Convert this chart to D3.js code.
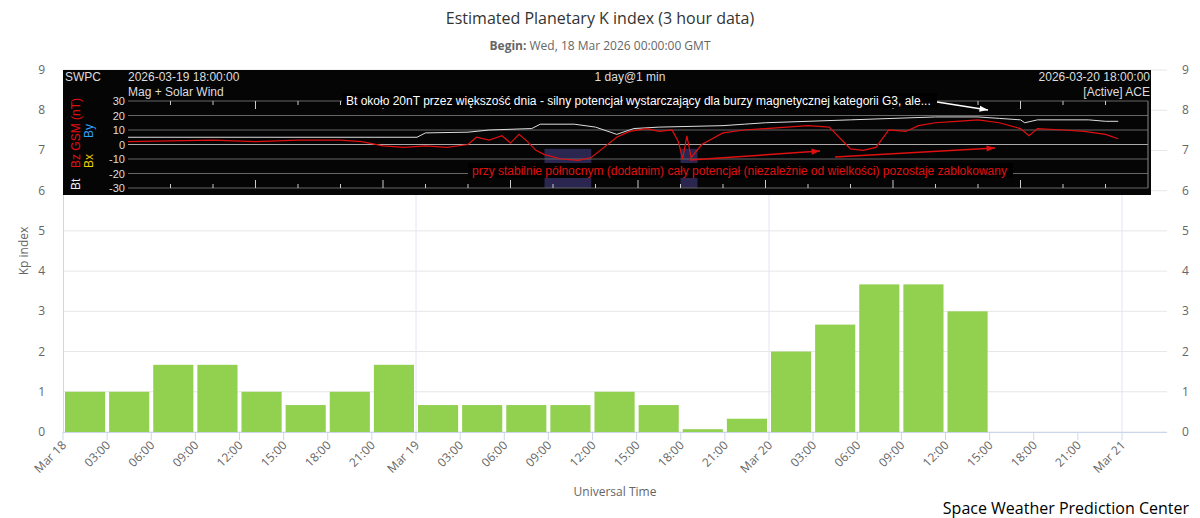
<!DOCTYPE html>
<html><head><meta charset="utf-8">
<script src="https://cdn.jsdelivr.net/npm/d3@7"></script>
<style>body{margin:0;background:#fff;font-family:"Open Sans","DejaVu Sans",sans-serif}</style>
</head><body><svg id="c" width="1200" height="518"></svg>
<script>
// Kp bars (3-hour), starting Mar 18 00:00 UTC
const kpValues = [1, 1, 1.67, 1.67, 1, 0.67, 1, 1.67,
                  0.67, 0.67, 0.67, 0.67, 1, 0.67, 0.07, 0.33,
                  2, 2.67, 3.67, 3.67, 3];
const yTicks = [0,1,2,3,4,5,6,7,8,9];
const xTickLabels = ["Mar 18","03:00","06:00","09:00","12:00","15:00","18:00","21:00",
                     "Mar 19","03:00","06:00","09:00","12:00","15:00","18:00","21:00",
                     "Mar 20","03:00","06:00","09:00","12:00","15:00","18:00","21:00","Mar 21"];
// inset: hours since 2026-03-19 18:00
const btHours = [0,6.8,7,8,8.5,9.5,9.7,10.5,11,11.5,11.9,12.5,14,14.5,15,16,17,18,19,20,20.5,21,21.1,21.4,22,22.6,23,23.3];
const btValues = [5,5,8,8.5,10,11,14,14,12,7,11,12,13,14,15,16,17,18,19,19,18,17,15,17,17,17,16,16];
const bzHours = [0,1,2,3,4,5,5.5,6,6.5,7,7.5,8,8.2,8.5,8.8,9,9.2,9.4,9.6,9.8,10.2,10.6,10.9,11.2,11.5,11.8,12.2,12.5,12.8,12.95,13.05,13.15,13.25,13.5,14,14.5,15,15.5,16,16.5,17,17.3,17.6,17.9,18.3,18.6,19,19.5,20,20.5,21,21.2,21.4,22,22.5,23,23.3];
const bzValues = [2,2.5,3,2,3,3,2,-1,-2,-1,-2,0,5,3,6,1,7,2,-4,-7,-10,-11,-9,-2,5,9,11,9,10,2,-10,6,-9,0,8,10,11,12,13,12,-3,-4,-2,10,9,13,15,16,17,15,11,6,11,10,9,7,4];

const svg = d3.select("#c");
const x0 = new Date(Date.UTC(2026,2,18));
const x = d3.scaleUtc().domain([x0, new Date(Date.UTC(2026,2,21))]).range([63,1122]);
const y = d3.scaleLinear().domain([0,9]).range([432,70]);
const hr = h => new Date(x0.getTime() + h*3600e3);

// grid
svg.append("g").selectAll("line").data(yTicks).join("line")
  .attr("x1",63).attr("x2",1167).attr("y1",d=>y(d)).attr("y2",d=>y(d))
  .attr("stroke","#e6e6e6");
svg.append("g").selectAll("line").data([1,2,3]).join("line")
  .attr("x1",d=>x(hr(24*d))).attr("x2",d=>x(hr(24*d))).attr("y1",70).attr("y2",432)
  .attr("stroke","#e0e8f4");

// bars
svg.append("g").selectAll("rect").data(kpValues).join("rect")
  .attr("x",(d,i)=>x(hr(3*i))+2).attr("width",(d,i)=>x(hr(3*i+3))-x(hr(3*i))-4)
  .attr("y",d=>y(d)).attr("height",d=>y(0)-y(d)).attr("fill","#92d050");

// axes
svg.append("line").attr("x1",63).attr("x2",1167).attr("y1",432.5).attr("y2",432.5).attr("stroke","#ccd6eb");
svg.append("line").attr("x1",63.5).attr("x2",63.5).attr("y1",70).attr("y2",432).attr("stroke","#ccd6eb");
const xt = svg.append("g").selectAll("g").data(xTickLabels).join("g")
  .attr("transform",(d,i)=>`translate(${x(hr(3*i))},432)`);
xt.append("line").attr("y2",8).attr("stroke","#ccd6eb");
xt.append("text").attr("transform","translate(4,14) rotate(-45)").attr("text-anchor","end")
  .attr("font-size",12).attr("fill","#666").text(d=>d);
[[45,"end"],[1182,"start"]].forEach(([px,a])=>{
  svg.append("g").selectAll("text").data(yTicks).join("text")
    .attr("x",px).attr("y",d=>y(d)+4).attr("text-anchor",a).attr("font-size",12).attr("fill","#666").text(d=>d);
});
svg.append("text").attr("transform","translate(28,251) rotate(-90)").attr("text-anchor","middle")
  .attr("font-size",12).attr("fill","#666").text("Kp index");
svg.append("text").attr("x",615).attr("y",496).attr("text-anchor","middle").attr("font-size",12).attr("fill","#666").text("Universal Time");
svg.append("text").attr("x",600).attr("y",24).attr("text-anchor","middle").attr("font-size",16).attr("fill","#333").text("Estimated Planetary K index (3 hour data)");
const sub = svg.append("text").attr("x",600).attr("y",50).attr("text-anchor","middle").attr("font-size",12).attr("fill","#666");
sub.append("tspan").attr("font-weight","bold").text("Begin: ");
sub.append("tspan").text("Wed, 18 Mar 2026 00:00:00 GMT");
svg.append("text").attr("x",1189).attr("y",514).attr("text-anchor","end").attr("font-size",16).attr("fill","#000").text("Space Weather Prediction Center");

// inset
const ins = svg.append("g").attr("font-family","Arial, 'Liberation Sans', sans-serif");
ins.append("rect").attr("x",63).attr("y",70).attr("width",1088).attr("height",125).attr("fill","#050505");
const ix = d3.scaleLinear().domain([0,24]).range([128,1148]);
const iy = d3.scaleLinear().domain([-30,30]).range([188,101]);
[[9.8,10.9],[13.0,13.4]].forEach(([a,b])=>ins.append("rect").attr("x",ix(a)).attr("width",ix(b)-ix(a))
  .attr("y",iy(-3)).attr("height",iy(-30)-iy(-3)).attr("fill","#2a2650"));
ins.append("g").selectAll("line").data([30,20,10,0,-10,-20,-30]).join("line")
  .attr("x1",128).attr("x2",1148).attr("y1",d=>iy(d)).attr("y2",d=>iy(d))
  .attr("stroke",d=>d===0?"#aaa":"#666").attr("stroke-width",1);
ins.append("line").attr("x1",1148).attr("x2",1148).attr("y1",iy(30)).attr("y2",iy(-30)).attr("stroke","#888");
ins.append("g").selectAll("line").data(d3.range(1,24)).join("line")
  .attr("x1",d=>ix(d)).attr("x2",d=>ix(d)).attr("y1",iy(30)).attr("y2",d=>iy(30)+(d%3?4:8)).attr("stroke","#ccc");
ins.append("g").selectAll("line").data(d3.range(1,24)).join("line")
  .attr("x1",d=>ix(d)).attr("x2",d=>ix(d)).attr("y1",iy(-30)).attr("y2",d=>iy(-30)-(d%3?4:8)).attr("stroke","#ccc");
ins.append("g").selectAll("text").data([30,20,10,0,-10,-20,-30]).join("text")
  .attr("x",125).attr("y",d=>iy(d)+4).attr("text-anchor","end").attr("font-size",11).attr("fill","#ddd").text(d=>d);
const ln = d3.line().curve(d3.curveLinear);
ins.append("path").attr("d",ln(btHours.map((h,i)=>[ix(h),iy(btValues[i])]))).attr("fill","none").attr("stroke","#ddd").attr("stroke-width",1);
ins.append("path").attr("d",ln(bzHours.map((h,i)=>[ix(h),iy(bzValues[i])]))).attr("fill","none").attr("stroke","#e01010").attr("stroke-width",1.2);
const it = (tx,ty,s,c,a)=>ins.append("text").attr("x",tx).attr("y",ty).attr("font-size",12).attr("fill",c).attr("text-anchor",a||"start").text(s);
it(65,81,"SWPC","#ddd"); it(128,81,"2026-03-19 18:00:00","#ddd"); it(128,96,"Mag + Solar Wind","#ddd");
it(630,81,"1 day@1 min","#ddd","middle"); it(1150,81,"2026-03-20 18:00:00","#ddd","end"); it(1150,96,"[Active] ACE","#ddd","end");
const vl = (tx,s,c)=>ins.append("text").attr("transform",`translate(${tx}) rotate(-90)`).attr("font-size",12).attr("fill",c).text(s);
vl("80,190","Bt","#eee"); vl("80,168","Bz GSM (nT)","#e01010"); vl("93,168","Bx","#f0d000"); vl("93,138","By","#30a0ff");
ins.append("rect").attr("x",342).attr("y",93).attr("width",595).attr("height",15).attr("fill","#000");
it(346,105,"Bt około 20nT przez większość dnia - silny potencjał wystarczający dla burzy magnetycznej kategorii G3, ale...","#fff");
ins.append("rect").attr("x",468).attr("y",163).attr("width",545).attr("height",15).attr("fill","#000");
it(472,175,"przy stabilnie północnym (dodatnim) cały potencjał (niezależnie od wielkości) pozostaje zablokowany","#e01010");
const arrow = (a,b,c,d,col)=>{
  ins.append("line").attr("x1",a).attr("y1",b).attr("x2",c).attr("y2",d).attr("stroke",col).attr("stroke-width",1.5);
  const ang=Math.atan2(d-b,c-a), L=9;
  ins.append("path").attr("d",`M${c},${d}L${c-L*Math.cos(ang-0.35)},${d-L*Math.sin(ang-0.35)}L${c-L*Math.cos(ang+0.35)},${d-L*Math.sin(ang+0.35)}Z`).attr("fill",col);
};
arrow(937,102,988,110,"#fff");
arrow(690,160,820,151,"#e01010");
arrow(835,157,995,148,"#e01010");
</script></body></html>
